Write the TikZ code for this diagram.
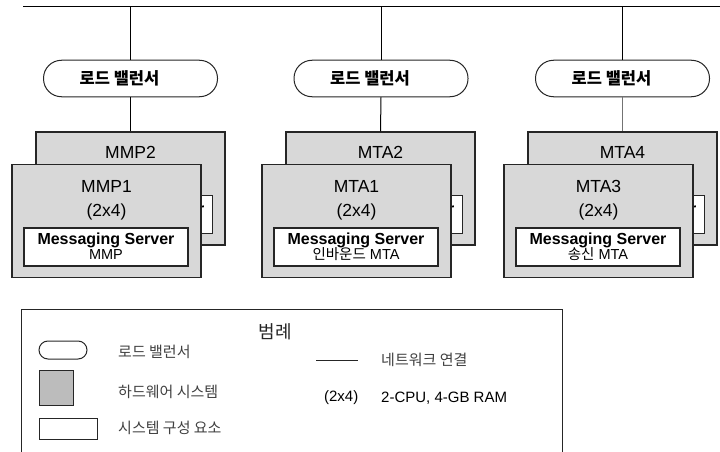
\documentclass[tikz,border=0pt]{standalone}
\usepackage{fontspec}
\setmainfont{Liberation Sans}
\newfontfamily\kr{Noto Sans CJK KR}
\definecolor{hwgray}{RGB}{216,216,216}
\definecolor{leggray}{RGB}{188,188,188}
\begin{document}
\begin{tikzpicture}[x=1pt,y=-1pt,
  hw/.style={draw=black!85, line width=1.2pt, fill=hwgray, minimum width=189pt, minimum height=113pt, inner sep=0pt},
  comp/.style={draw=black!85, line width=1.2pt, fill=white, minimum width=164pt, minimum height=38pt, inner sep=0pt},
  lb/.style={draw=black!85, line width=1pt, fill=white, rounded corners=18pt, minimum width=174pt, minimum height=36.5pt, inner sep=0pt},
  lbtext/.style={inner sep=0pt, font=\kr\bfseries\fontsize{16.5}{18}\selectfont},
  lbl/.style={inner sep=0pt, anchor=base, font=\fontsize{17.5}{19}\selectfont},
  ms/.style={inner sep=0pt, anchor=base, font=\bfseries\fontsize{16}{18}\selectfont},
  frag/.style={inner sep=0pt, anchor=base east, font=\bfseries\fontsize{16}{18}\selectfont},
  sub/.style={inner sep=0pt, anchor=base, font=\fontsize{14.5}{16}\selectfont},
  net/.style={line width=1pt, draw=black},
  legtext/.style={inner sep=0pt, anchor=west, text=black!75, font=\kr\fontsize{15}{17}\selectfont},
  legnum/.style={inner sep=0pt, anchor=west, font=\fontsize{15}{17}\selectfont}]
\useasboundingbox (0,0) rectangle (720,452);

% network bus
\coordinate (busl) at (23,6.5);
\coordinate (busr) at (721,6.5);
\draw[net] (busl) -- (busr);
\coordinate (t1) at (130.5,6.5);
\coordinate (t2) at (381,6.5);
\coordinate (t3) at (622.5,6.5);

% load balancers
\node[lb] (lb1) at (130.5,78.5) {};
\node[lbtext] (lb1t) at (119.5,78) {로드 밸런서};
\node[lb] (lb2) at (381,78.5) {};
\node[lbtext] (lb2t) at (370,78) {로드 밸런서};
\node[lb] (lb3) at (622.5,78.5) {};
\node[lbtext] (lb3t) at (611.5,78) {로드 밸런서};

% ---------- group 1 ----------
\node[hw] (b1) at (130.5,188.5) {};
\node[comp] (b1c) at (130.5,214.5) {};
\node[frag] (b1m) at (204.5,214) {r};
\node[lbl] (b1t) at (130.5,158.5) {MMP2};
\node[hw] (f1) at (106.5,221) {};
\node[lbl] (f1t) at (106.5,192.5) {MMP1};
\node[lbl] (f1n) at (106.5,216.5) {(2x4)};
\node[comp] (f1c) at (106,247) {};
\node[ms] (f1m) at (106,244.7) {Messaging Server};
\node[sub] (f1s) at (106,259.7) {MMP};

% ---------- group 2 ----------
\node[hw] (b2) at (380.5,188.5) {};
\node[comp] (b2c) at (380.5,214.5) {};
\node[frag] (b2m) at (454.5,214) {r};
\node[lbl] (b2t) at (380.5,158.5) {MTA2};
\node[hw] (f2) at (356.5,221) {};
\node[lbl] (f2t) at (356.5,192.5) {MTA1};
\node[lbl] (f2n) at (356.5,216.5) {(2x4)};
\node[comp] (f2c) at (356,247) {};
\node[ms] (f2m) at (356,244.7) {Messaging Server};
\node[sub] (f2s) at (356,259.7) {{\kr 인바운드} MTA};

% ---------- group 3 ----------
\node[hw] (b3) at (622.5,188.5) {};
\node[comp] (b3c) at (622.5,214.5) {};
\node[frag] (b3m) at (696.5,214) {r};
\node[lbl] (b3t) at (622.5,158.5) {MTA4};
\node[hw] (f3) at (598.5,221) {};
\node[lbl] (f3t) at (598.5,192.5) {MTA3};
\node[lbl] (f3n) at (598.5,216.5) {(2x4)};
\node[comp] (f3c) at (598,247) {};
\node[ms] (f3m) at (598,244.7) {Messaging Server};
\node[sub] (f3s) at (598,259.7) {{\kr 송신} MTA};

% connectors
\draw[net] (t1) -- (lb1.north);
\draw[net] (lb1.south) -- (b1.north);
\draw[net] (t2) -- (lb2.north);
\draw[net] (lb2.south) -- (b2.north);
\draw[net] (t3) -- (lb3.north);
\draw[net, draw=black!55] (lb3.south) -- (b3.north);

% ---------- legend ----------
\node[draw=black!85, line width=1.2pt, minimum width=541.7pt, minimum height=150pt, inner sep=0pt, anchor=north west] (leg) at (20.5,309) {};
\node[inner sep=0pt, text=black!85, font=\kr\fontsize{18}{20}\selectfont] (legtitle) at (275,332) {범례};
\node[draw=black!85, line width=1pt, rounded corners=9pt, minimum width=48pt, minimum height=18pt, inner sep=0pt] (leglb) at (63,350) {};
\node[legtext] (leglbt) at (118,352) {로드 밸런서};
\node[draw=black!85, line width=1pt, fill=leggray, minimum width=34pt, minimum height=35pt, inner sep=0pt] (leghw) at (56,387.5) {};
\node[legtext] (leghwt) at (118,392) {하드웨어 시스템};
\node[draw=black!85, line width=1pt, fill=white, minimum width=58pt, minimum height=21pt, inner sep=0pt] (legcomp) at (68,428.5) {};
\node[legtext] (legcompt) at (118,428) {시스템 구성 요소};
\coordinate (legl1) at (316,360);
\coordinate (legl2) at (358,360);
\draw[line width=1pt, draw=black!85] (legl1) -- (legl2);
\node[legtext] (legnett) at (381,360) {네트워크 연결};
\node[legnum, anchor=east] (legnum1) at (358.5,398) {(2x4)};
\node[legnum] (legnum2) at (381,398) {2-CPU, 4-GB RAM};
\end{tikzpicture}
\end{document}
